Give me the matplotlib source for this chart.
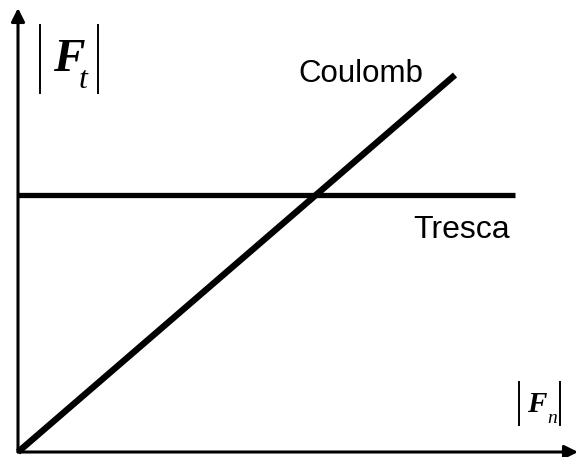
import matplotlib.pyplot as plt

# data in drawing units (origin at the axes corner)
coulomb_x = [0, 437]
coulomb_y = [0, 377]
tresca_x = [0, 497]
tresca_y = [257, 257]

fig = plt.figure(figsize=(5.79, 4.57), dpi=100)
ax = fig.add_axes([0, 0, 1, 1])
ax.set_xlim(-18, 561)
ax.set_ylim(-5, 452)
ax.axis('off')

# axes with arrows
ax.annotate('', xy=(560, 0), xytext=(0, 0),
            arrowprops=dict(arrowstyle='-|>', lw=2.2, color='black', mutation_scale=20, shrinkA=0, shrinkB=0))
ax.annotate('', xy=(0, 444), xytext=(0, 0),
            arrowprops=dict(arrowstyle='-|>', lw=2.2, color='black', mutation_scale=20, shrinkA=0, shrinkB=0))

ax.plot(coulomb_x, coulomb_y, color='black', lw=4.6, solid_capstyle='butt')
ax.plot(tresca_x, tresca_y, color='black', lw=3.8, solid_capstyle='butt')

ax.text(343, 378, 'Coulomb', fontsize=22.5, family='Liberation Sans', ha='center', va='center')
ax.text(444, 222, 'Tresca', fontsize=23, family='Liberation Sans', ha='center', va='center')

# |F_t| label
for bx in (22, 80):
    ax.plot([bx, bx], [359, 427], color='black', lw=1.4)
ax.text(35, 381, 'F', fontsize=34, family='Liberation Serif', weight='bold', style='italic',
        ha='left', va='baseline')
ax.text(61, 364, 't', fontsize=23, family='Liberation Serif', style='italic',
        ha='left', va='baseline')

# |F_n| label
for bx in (501, 542):
    ax.plot([bx, bx], [27, 70], color='black', lw=1.4)
ax.text(509, 40, 'F', fontsize=21, family='Liberation Serif', weight='bold', style='italic',
        ha='left', va='baseline')
ax.text(529, 29, 'n', fontsize=14, family='Liberation Serif', style='italic',
        ha='left', va='baseline')

fig.savefig('out.png', dpi=100)
